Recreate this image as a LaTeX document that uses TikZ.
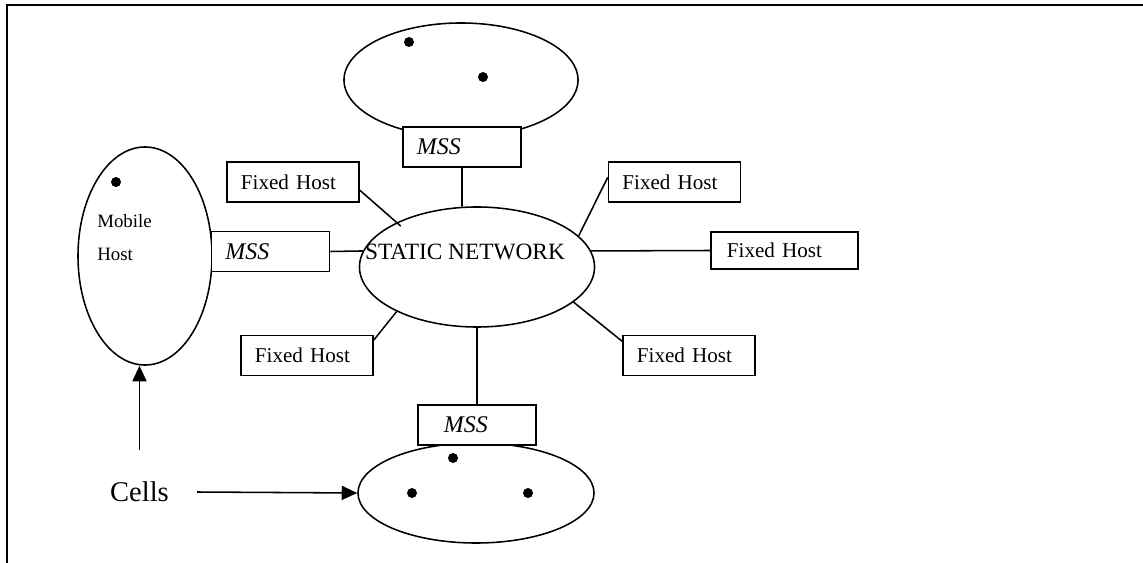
\documentclass[tikz,border=0pt]{standalone}
\usepackage{fontspec}
\setmainfont{Liberation Serif}
\usetikzlibrary{shapes.geometric, arrows.meta, positioning, calc}
\tikzstyle{cell} = [ellipse, draw=black, line width=1.1pt, inner sep=0pt]
\tikzstyle{fixedhost} = [rectangle, draw=black, fill=white, line width=1.1pt, minimum width=3.3cm, minimum height=1cm, inner xsep=0.35cm, text width=2.6cm, align=left, font=\fontsize{15}{18}\selectfont]
\tikzstyle{mss} = [rectangle, draw=black, fill=white, line width=1.1pt, minimum width=2.95cm, minimum height=1cm, inner xsep=0.35cm, text width=2.25cm, align=left, font=\fontsize{17}{20}\selectfont\itshape]
\tikzstyle{userdot} = [circle, fill=black, inner sep=0pt, minimum size=0.25cm]
\tikzstyle{link} = [line width=1.1pt]
\tikzstyle{arrow} = [line width=1.1pt, -{Triangle[length=11pt,width=10pt]}]

\begin{document}
\begin{tikzpicture}[x=0.025cm, y=-0.025cm]
  \useasboundingbox (0,0) rectangle (1143,563);
  \draw[line width=1.8pt] (7,563) -- (7,5) -- (1143,5);

  % cells and the static network
  \node[cell, minimum width=5.85cm, minimum height=2.85cm] (cellT) at (461,80) {};
  \node[cell, minimum width=3.35cm, minimum height=5.45cm] (cellL) at (145,256) {};
  \node[cell, minimum width=5.9cm, minimum height=2.5cm] (cellB) at (476,493) {};
  \node[cell, minimum width=5.875cm, minimum height=3cm] (net) at (477,267) {};
  \node[font=\fontsize{16.6}{20}\selectfont, inner sep=0pt] (netlabel) at (465,252) {STATIC NETWORK};

  % mobile hosts
  \node[userdot] (d1) at (409,42) {};
  \node[userdot] (d2) at (483,77) {};
  \node[userdot] (d3) at (116,182) {};
  \node[userdot] (d4) at (453,458) {};
  \node[userdot] (d5) at (412,493) {};
  \node[userdot] (d6) at (528,493) {};
  \node[anchor=west, align=left, inner sep=0pt, font=\fontsize{13.4}{23.4}\selectfont] (mhlabel) at (97,238) {Mobile\\Host};

  % support stations
  \node[mss] (mssT) at (462,147) {MSS};
  \node[mss] (mssL) at (270.5,251.5) {MSS};
  \node[mss, inner xsep=0.65cm, text width=1.65cm] (mssB) at (477,425) {MSS};

  % fixed hosts
  \node[fixedhost] (fhTL) at (293,182) {Fixed Host};
  \node[fixedhost] (fhTR) at (674.5,182) {Fixed Host};
  \node[fixedhost, minimum width=3.675cm, minimum height=0.925cm, inner xsep=0.4cm, text width=2.875cm] (fhR) at (784.5,250.5) {Fixed Host};
  \node[fixedhost] (fhBL) at (307,355.5) {Fixed Host};
  \node[fixedhost] (fhBR) at (689,355.5) {Fixed Host};

  \node[font=\fontsize{20.3}{24}\selectfont, inner xsep=0.7cm, inner ysep=0.79cm] (cells) at (139.5,492) {Cells};

  \draw[link] (mssT.south) -- (net.104);
  \draw[link] (mssL.east) -- (net.172);
  \draw[link] (net.south) -- (mssB.north);
  \draw[link, shorten >=-4pt] (fhTL.-7) -- (net.151);
  \draw[link] (fhTR.176) -- (net.17);
  \draw[link] (fhR.west) -- (net.8);
  \draw[link] (fhBL.13) -- (net.209);
  \draw[link] (fhBR.168) -- (net.-20);

  \draw[arrow] (cells.north) -- (cells.north |- cellL.south);
  \draw[arrow] (cells.east) -- (cellB.west);
\end{tikzpicture}
\end{document}
